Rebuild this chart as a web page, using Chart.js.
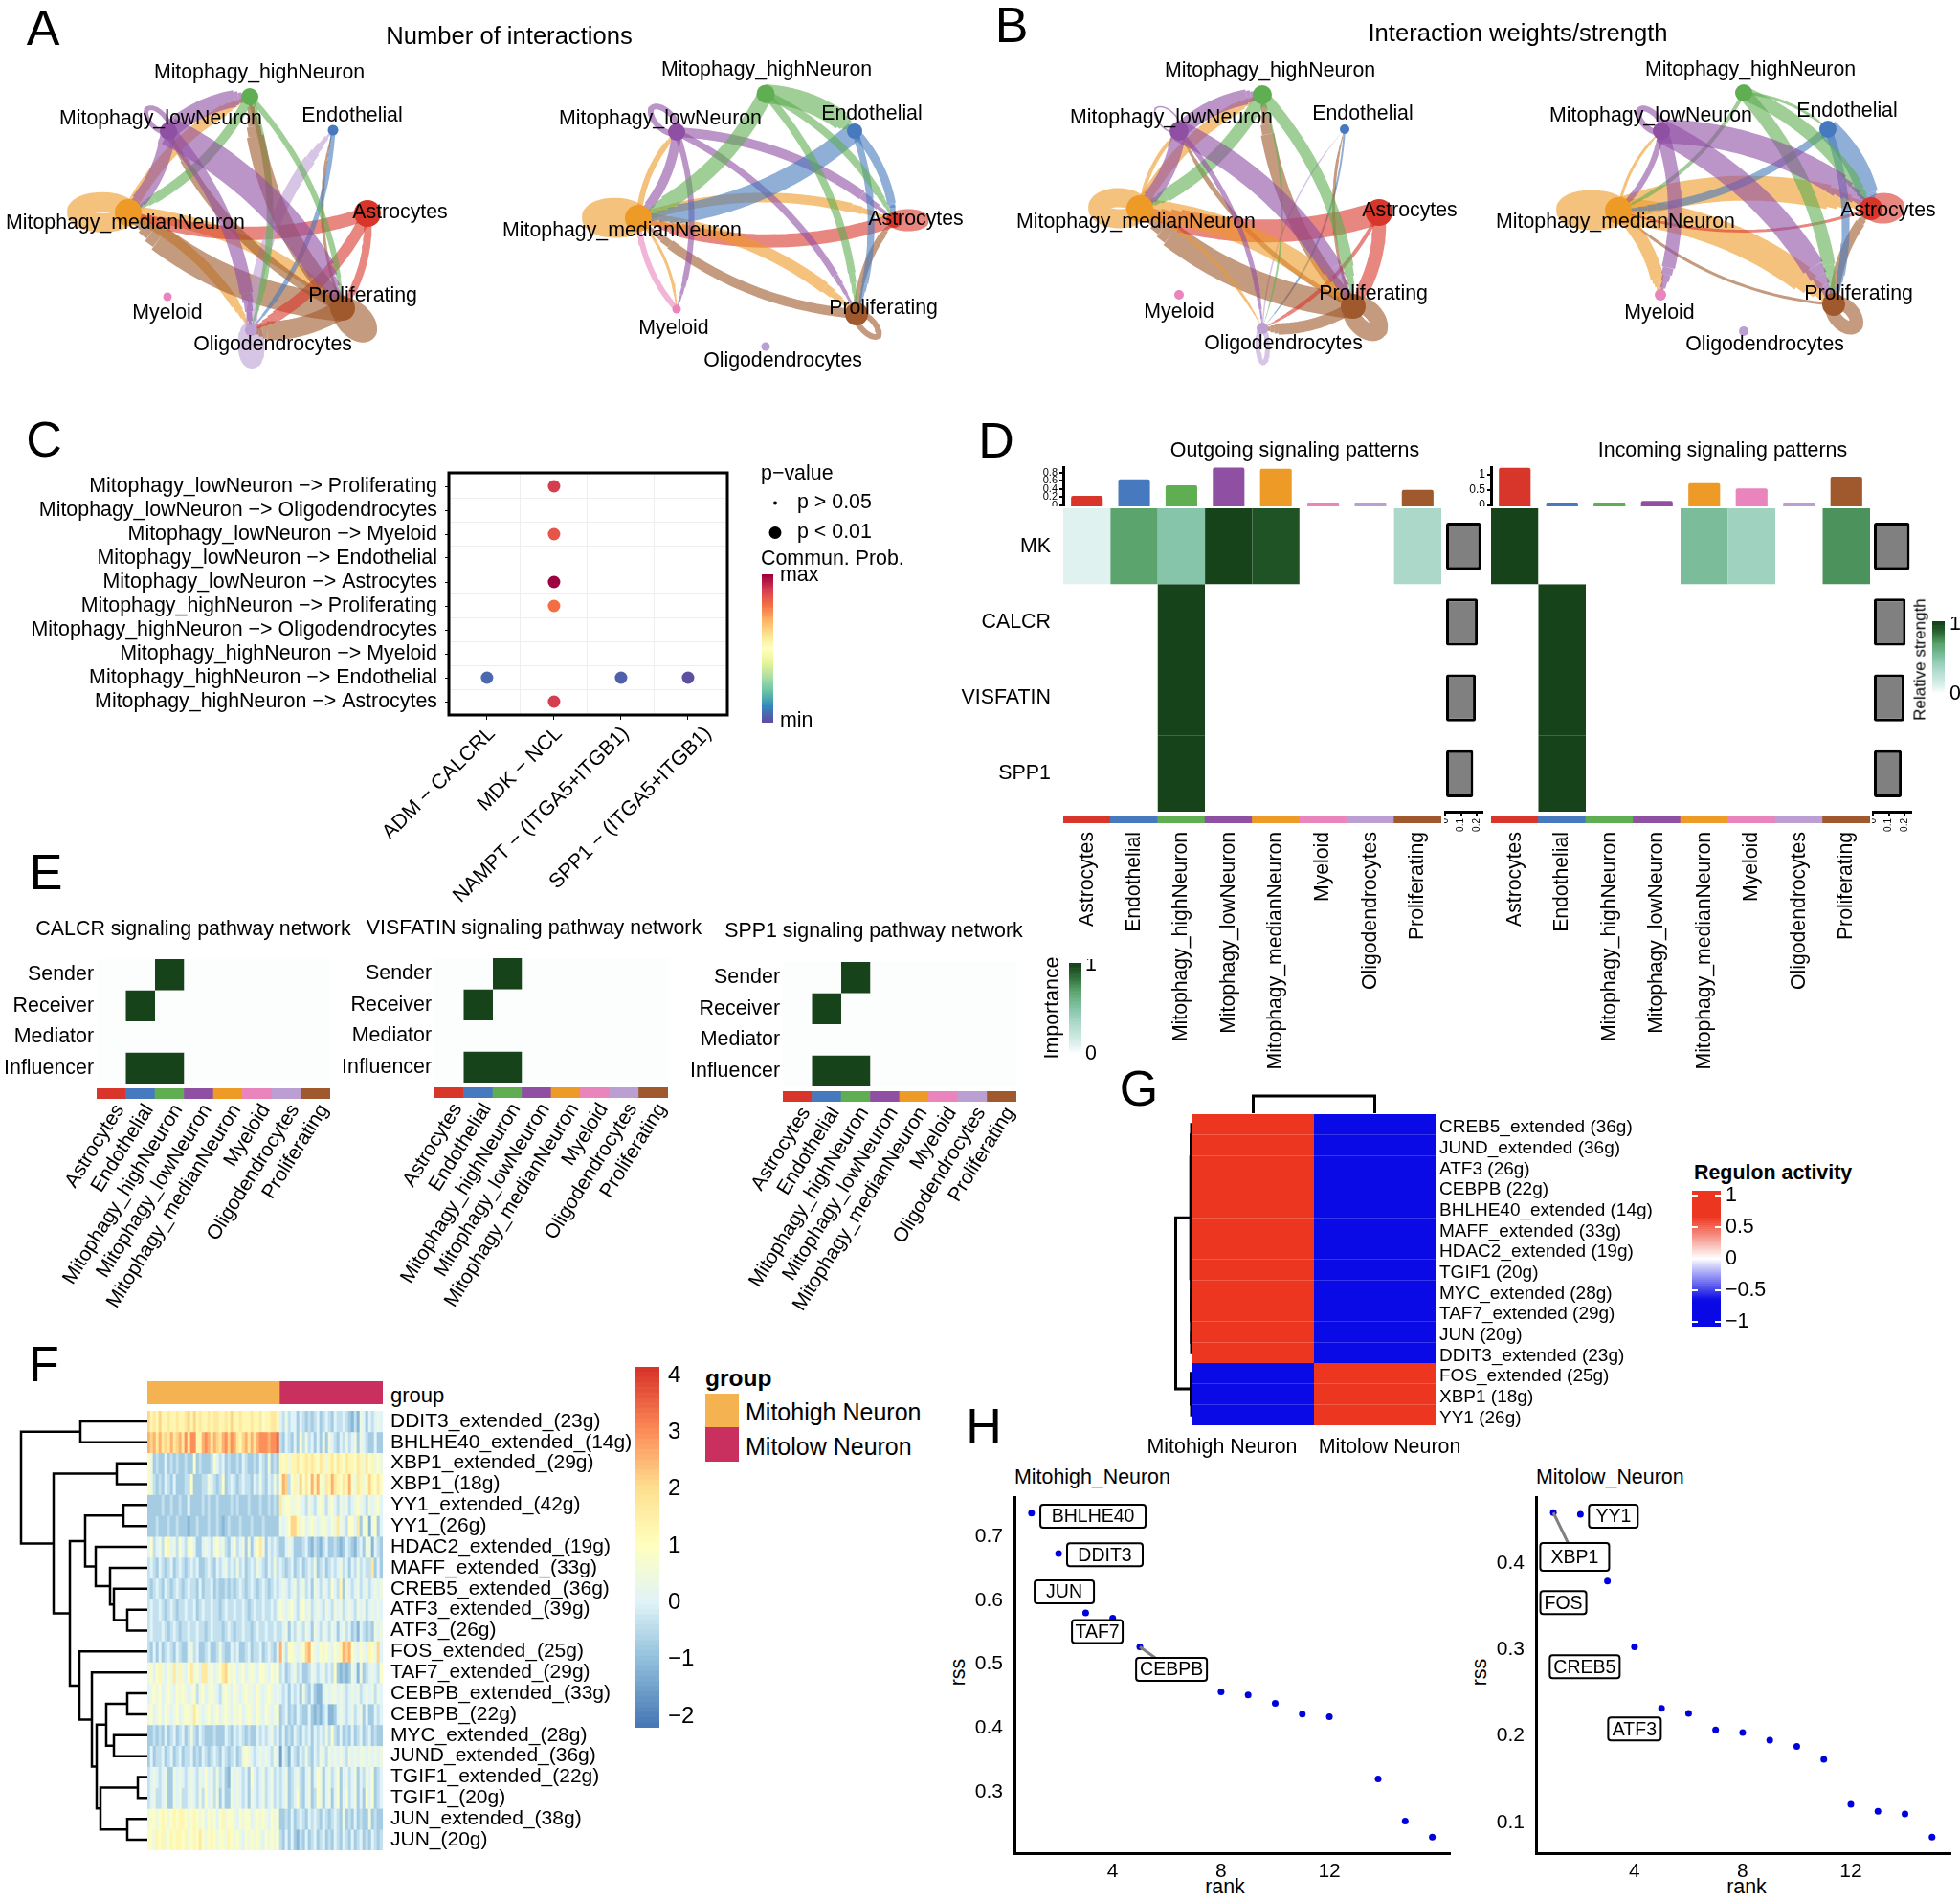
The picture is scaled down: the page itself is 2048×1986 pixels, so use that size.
<!DOCTYPE html>
<html>
<head>
<meta charset="utf-8">
<title>Mitophagy neuron signalling figure</title>
<script src="https://cdn.jsdelivr.net/npm/chart.js@4/dist/chart.umd.min.js"></script>
<style>
  html, body { margin: 0; padding: 0; background: #fff; }
  #page { position: relative; width: 2048px; height: 1986px; overflow: hidden; background: #fff; }
  #page canvas { position: absolute; }
  .note { position: absolute; white-space: nowrap; line-height: 1; color: #000; font-family: "Liberation Sans", Arial, sans-serif; }
  .swatch { position: absolute; }
</style>
</head>
<body>
<div id="page"></div>
<script>
// ---------- data: cell types ----------
const AST = 0, END = 1, HIG = 2, LOW = 3, MED = 4, MYE = 5, OLI = 6, PRO = 7;
const cellTypes = ['Astrocytes', 'Endothelial', 'Mitophagy_highNeuron', 'Mitophagy_lowNeuron', 'Mitophagy_medianNeuron', 'Myeloid', 'Oligodendrocytes', 'Proliferating'];
const cellColors = ['#d9362b', '#4679bd', '#5fae52', '#8f4fa3', '#ee9a26', '#ea84bd', '#bb9fd2', '#9f592c'];

// ---------- data: panels A and B, [from, to, weight] ----------
const net1Edges = [[LOW,HIG,18],[LOW,MED,16],[LOW,PRO,30],[LOW,OLI,14],[MED,HIG,12],[HIG,MED,10],[HIG,PRO,6],[PRO,HIG,18],[HIG,OLI,7],[PRO,LOW,10],[OLI,END,12],[END,OLI,5],[PRO,END,3],[AST,MED,14],[AST,PRO,8],[AST,OLI,12],[MED,PRO,14],[PRO,MED,28],[MED,OLI,10],[PRO,OLI,20]];
const net2Edges = [[HIG,END,20],[HIG,MED,16],[HIG,AST,8],[HIG,PRO,8],[END,MED,20],[END,AST,9],[END,PRO,7],[LOW,MED,10],[LOW,AST,10],[LOW,PRO,7],[LOW,MYE,6],[MED,LOW,6],[MED,AST,10],[MED,PRO,12],[MED,MYE,3],[AST,MED,14],[PRO,MED,10],[PRO,AST,7],[MYE,MED,6]];
const net3Edges = [[LOW,HIG,16],[LOW,MED,15],[LOW,PRO,22],[LOW,OLI,5],[HIG,MED,14],[HIG,PRO,12],[HIG,OLI,2],[MED,HIG,12],[MED,LOW,4],[MED,PRO,22],[MED,OLI,3],[AST,MED,24],[AST,PRO,14],[AST,OLI,4],[PRO,MED,26],[PRO,HIG,14],[PRO,LOW,5],[PRO,OLI,12],[PRO,END,3],[END,OLI,2],[OLI,END,1.5]];
const net4Edges = [[LOW,AST,25],[LOW,PRO,24],[LOW,MED,6],[LOW,MYE,14],[HIG,END,3],[HIG,AST,14],[HIG,PRO,14],[HIG,MED,4],[END,AST,22],[END,MED,8],[END,PRO,8],[AST,MED,3],[MED,AST,26],[MED,PRO,28],[MED,MYE,14],[MED,LOW,3],[PRO,AST,10],[PRO,MED,3]];
// self loops: [cell, weight, radial half length, tangential half length]
const net1Loops = [[MED,20,27,11],[PRO,18,18,9],[OLI,16,16,6],[LOW,5,16,8]];
const net2Loops = [[MED,22,24,10],[AST,13,15,5],[LOW,6,18,9],[PRO,6,16,7]];
const net3Loops = [[MED,20,22,11],[PRO,18,18,10],[OLI,5,18,5],[LOW,1.5,17,9]];
const net4Loops = [[MED,22,27,10],[AST,18,13,7],[LOW,6,16,8],[PRO,14,16,9]];
const net1Sizes = [14,5.5,9,9,14,4.5,6,13];
const net2Sizes = [8,8,9.5,9,14,4.5,4.5,12];
const net3Sizes = [14,5,10,10,14,5,6,13];
const net4Sizes = [12,9,9,9,14,6,5,12];
// layout of the cells in each network
const net1X = [384,348,261,176,134,175,262,358];
const net1Y = [223,136,101,137,222,310,345,322];
const net2X = [934,893,800,707,667,707,800,895];
const net2Y = [230,137,98,138,228,323,362,328];
const net3X = [1441,1405,1319,1232,1191,1232,1319,1414];
const net3Y = [222,135,99,137,218,308,343,320];
const net4X = [1955,1910,1822,1736,1691,1735,1822,1916];
const net4Y = [218,135,97,137,220,308,346,318];

// ---------- data: panel C ----------
const lrPairs = ['ADM − CALCRL', 'MDK − NCL', 'NAMPT − (ITGA5+ITGB1)', 'SPP1 − (ITGA5+ITGB1)'];
const commRows = ['Mitophagy_lowNeuron −> Proliferating','Mitophagy_lowNeuron −> Oligodendrocytes','Mitophagy_lowNeuron −> Myeloid','Mitophagy_lowNeuron −> Endothelial','Mitophagy_lowNeuron −> Astrocytes','Mitophagy_highNeuron −> Proliferating','Mitophagy_highNeuron −> Oligodendrocytes','Mitophagy_highNeuron −> Myeloid','Mitophagy_highNeuron −> Endothelial','Mitophagy_highNeuron −> Astrocytes'];
const dotCol  = [2, 2, 2, 2, 1, 3, 4, 2];
const dotRow  = [0, 2, 4, 5, 8, 8, 8, 9];
const dotProb = [0.9, 0.85, 1, 0.8, 0.045, 0.03, 0, 0.9];
const pLegendText = ['p > 0.05', 'p < 0.01'];
const pLegendSize = [2, 6.5];

// ---------- data: panel D ----------
const pathways = ['MK', 'CALCR', 'VISFATIN', 'SPP1'];
const outMK       = [0.1, 0.7, 0.5, 1, 0.95, 0, 0, 0.35];
const outCALCR    = [0, 0, 1, 0, 0, 0, 0, 0];
const outVISFATIN = [0, 0, 1, 0, 0, 0, 0, 0];
const outSPP1     = [0, 0, 1, 0, 0, 0, 0, 0];
const inMK        = [1, 0, 0, 0, 0.55, 0.4, 0, 0.75];
const inCALCR     = [0, 1, 0, 0, 0, 0, 0, 0];
const inVISFATIN  = [0, 1, 0, 0, 0, 0, 0, 0];
const inSPP1      = [0, 1, 0, 0, 0, 0, 0, 0];
const outTotals = [0.23, 0.64, 0.49, 0.93, 0.90, 0.06, 0.06, 0.38];
const inTotals  = [1.22, 0.07, 0.07, 0.14, 0.72, 0.55, 0.07, 0.93];
const outPathTotals = [0.224, 0.204, 0.192, 0.176];
const inPathTotals  = [0.23, 0.205, 0.195, 0.18];

// ---------- data: panel E ----------
const roles = ['Sender', 'Receiver', 'Mediator', 'Influencer'];
const senderRow     = [0, 0, 1, 0, 0, 0, 0, 0];
const receiverRow   = [0, 1, 0, 0, 0, 0, 0, 0];
const mediatorRow   = [0, 0, 0, 0, 0, 0, 0, 0];
const influencerRow = [0, 1, 1, 0, 0, 0, 0, 0];

// ---------- data: panel F ----------
const groupSizes = [46, 36];
const regulonNames = ['DDIT3_extended_(23g)','BHLHE40_extended_(14g)','XBP1_extended_(29g)','XBP1_(18g)','YY1_extended_(42g)','YY1_(26g)','HDAC2_extended_(19g)','MAFF_extended_(33g)','CREB5_extended_(36g)','ATF3_extended_(39g)','ATF3_(26g)','FOS_extended_(25g)','TAF7_extended_(29g)','CEBPB_extended_(33g)','CEBPB_(22g)','MYC_extended_(28g)','JUND_extended_(36g)','TGIF1_extended_(22g)','TGIF1_(20g)','JUN_extended_(38g)','JUN_(20g)'];
const rDDIT3e = [2.5,1.5,2,1.5,2.5,1.5,1.5,2,1.5,1.5,2,1.5,1.5,2,2.5,1.5,2.5,1.5,2,1.5,1.5,2,1.5,2,2,1.5,1.5,2,1.5,2.5,1.5,1.5,2,1.5,1.5,1.5,2,1.5,1.5,2,1,1.5,1.5,2,2,1.5, 0,-.5,.5,-.5,0,0,-1,0,-.5,-1,-.5,-1,-.5,0,-1,-.5,0,-.5,-1,0,-.5,-.5,0,-.5,-1,-1.5,-.5,-1.5,.5,0,-1,0,-.5,0,.5,0];
const rBHLHE40e = [3,2.5,3,2,3,2,2.5,2,3,2,2.5,3,2,3.5,2,3.5,3.5,1.5,1.5,3,3.5,3,2,3,2.5,2,3,3.5,2.5,3.5,3,2,1.5,2.5,3,2,3,2,3,3.5,3.5,3.5,3,3.5,3.5,4, -.5,-1,0,-.5,-1,0,-1,1,-.5,.5,-.5,0,-1,0,-1,.5,-1,.5,0,-.5,-1,0,-.5,.5,-.5,0,.5,-1,.5,0,-.5,-1,-1,0,-1,-1];
const rXBP1e = [1,.5,-1,-.5,-1,-1,0,-1,-.5,-1,-.5,-1,-1,-.5,-1,-1,1,-1,-.5,-1,-1,-1,-.5,1,0,-.5,0,-1,-.5,-1,-1,-.5,-1,0,-.5,-1,-1,-.5,-1,0,-.5,-1,.5,-1,-.5,-1, 1.5,1,1.5,.5,1.5,1.5,2,1,1.5,2,1.5,2,1.5,1,2,1.5,.5,1.5,2,1,2,1.5,1,2,1.5,1.5,1,2,1.5,.5,2,1,1.5,.5,1,.5];
const rXBP1 = [1,.5,-.5,-1,-.5,-1,0,-.5,-1,0,-1,-1,-1,-.5,-.5,1,-1,-1,-1,-.5,-.5,.5,0,-.5,-1,-.5,1,-1,-.5,0,-.5,-1,-.5,0,-.5,-.5,-1,0,-.5,.5,-.5,-1,0,-.5,.5,-.5, 1,3,2.5,-.5,1,1.5,.5,2.5,1,2,1,3,1.5,3,1,.5,2,1.5,3,2,1.5,1,2,1.5,3,1,.5,2,1.5,.5,1,2.5,1.5,1,2,1];
const rYY1e = [-1,-1,-1,-1,-1,-.5,-1,-1,-.5,-1,-1,-.5,-1,-1,0,-1,-1,-1,-1,-.5,-1,-.5,-1,-1,-.5,-1,-1,-1,-1,-.5,-1,-.5,-1,-1,-1,-.5,-1,-1,-1,-.5,-1,-1,-.5,-1,-.5,-1, 2,.5,1,1,.5,.5,1,.5,0,-.5,.5,0,-.5,.5,1,0,-.5,.5,1,0,-.5,.5,0,.5,-.5,0,.5,1,.5,0,-.5,.5,0,.5,1,0];
const rYY1 = [-1,-1,-1,-.5,-1,-1,-1,-.5,-1,-1,-.5,-1,-1,-1,-1.5,-1,-1,-.5,-1,-1,-1,-.5,-1,-1,-.5,-1,-1.5,-1,-.5,-1,-1,-1,-.5,-1,-1,-1,-.5,-1,-1,-1,-.5,-1,-1,-1,-1,-1, .5,0,.5,1,2.5,2.5,1.5,.5,1,0,.5,1,.5,0,.5,1,.5,0,1,.5,2,.5,0,-.5,1,1,0,2,-1,.5,1,-1.5,.5,1,-1,0];
const rHDAC2e = [0,1,-.5,0,.5,-.5,1,1.5,0,.5,-.5,1,0,-.5,.5,1,0,-1,-1,0,.5,0,-.5,.5,1,0,.5,-.5,-1,0,1,-.5,0,.5,-1,.5,-1,0,1,2,.5,-1,0,-.5,0,-.5, -1,-1,0,.5,0,-1,-1,-1,-.5,0,-1,-1.5,-.5,-1,-1.5,-.5,0,-1,-1,-.5,-1,-1.5,-1,0,-.5,-1,-1.5,-.5,0,-1,.5,.5,-1.5,0,-.5,-1];
const rMAFFe = [-.5,0,-.5,-1,0,-.5,-1,-.5,0,-1,-.5,0,-.5,-1,-.5,0,-.5,0,-1,-1,-.5,0,-.5,-1,0,-.5,0,.5,-.5,0,-.5,.5,-.5,0,-1,-.5,0,-.5,.5,0,-.5,-1,0,-.5,.5,-.5, 0,-.5,-1,-.5,0,-1,-.5,0,-1,-.5,0,-.5,.5,-1,-.5,0,-1,-.5,0,-.5,0,.5,-.5,0,-1,0,-.5,.5,-.5,0,-.5,-.5,2,-1,0,-1];
const rCREB5e = [-.5,-1,-.5,0,-.5,-1,0,-.5,-1,-.5,0,-.5,-1,-.5,0,-.5,-.5,-1,0,-1,-.5,-.5,0,-1,-.5,-1,-1,-.5,-1,-.5,-1,-.5,0,-.5,-1,-.5,0,-.5,-1,-.5,0,-.5,-1,-.5,0,-.5, 0,.5,0,-.5,0,.5,-.5,0,.5,-.5,0,-1,.5,0,-.5,.5,0,-.5,1,0,-.5,1.5,-1,.5,0,-.5,0,.5,-.5,0,.5,-.5,0,.5,0,.5];
const rATF3e = [-.5,0,-.5,-.5,0,-.5,-1,-.5,0,-.5,-1,-.5,-.5,0,-.5,-.5,0,-1,-.5,0,-.5,-.5,0,-.5,-.5,-1,-.5,0,-.5,-.5,0,-.5,-.5,0,-.5,-1,-.5,0,-.5,-.5,0,-.5,-.5,0,-.5,0, 1,.5,0,.5,1,0,-.5,.5,1,0,.5,-.5,0,.5,0,-.5,.5,0,-.5,.5,0,.5,-.5,0,.5,0,-.5,.5,0,.5,-.5,0,.5,0,.5,0];
const rATF3 = [-.5,0,-.5,-.5,-.5,0,-.5,-1,-.5,0,-.5,-1,-.5,-.5,0,-.5,-.5,0,-.5,-.5,-1,-.5,0,-.5,-.5,-.5,-1,-.5,0,-.5,-1,-.5,-.5,0,-.5,-.5,-1,-.5,0,-.5,-.5,0,-.5,-.5,0,-.5, -.5,0,.5,-1,0,-.5,.5,0,-.5,.5,0,-1,.5,0,-.5,.5,0,-.5,.5,0,-1,0,.5,-.5,0,-1,-.5,-1.5,0,-.5,-1,-.5,-1,.5,0,.5];
const rFOSe = [-.5,-1,0,-1,0,-1,-.5,0,-.5,-1,0,-.5,-1,-1,0,.5,-.5,0,-1,-1,-.5,0,-1,-1,-.5,.5,-.5,-1,-1,0,-.5,0,-1,-1,-.5,0,-1,-.5,-.5,0,-1,-.5,0,-.5,-1,0, 3,.5,-.5,1,1,.5,0,.5,1,2.5,3,1,.5,0,1,.5,1,.5,0,1,.5,1.5,3,2.5,3,1,.5,0,1,.5,0,1.5,1,.5,2.5,0];
const rTAF7e = [.5,1,0,1,1.5,.5,0,1,.5,2,.5,1.5,.5,0,1,2,.5,1,0,2,2,.5,1,0,.5,1,2,2.5,1,.5,1,0,.5,1,0,.5,1,.5,0,1,1,.5,0,1,.5,1, -.5,0,-1,-.5,0,.5,-.5,0,-1,-1,-.5,.5,0,-.5,0,.5,-.5,0,-.5,1,-1,-1.5,-1,-1.5,-1,.5,0,-1.5,.5,-1,-.5,0,.5,0,-.5,1];
const rCEBPBe = [0,.5,1,.5,1,0,.5,1,.5,0,1,.5,1,.5,0,.5,1,-.5,.5,1,0,.5,1,.5,0,-.5,.5,1,.5,0,1,.5,0,.5,1,.5,.5,0,1,.5,0,.5,1,.5,0,.5, 0,-.5,0,-1,0,-.5,0,-1,.5,-.5,-1,0,-1,-1.5,-1.5,0,.5,0,.5,.5,0,.5,0,-.5,0,.5,0,.5,-.5,0,.5,0,.5,-.5,.5,0];
const rCEBPB = [.5,1,0,.5,1,0,1,.5,0,.5,1,0,.5,1,1,.5,2,1,.5,0,.5,1,0,.5,1,0,.5,1,.5,0,1,.5,1,0,.5,1,.5,0,1,.5,0,1,.5,0,.5,1, -1,-.5,0,-1,-.5,-1,0,-.5,-1,-1,0,-1,-1.5,-1,-1.5,-.5,0,-1.5,-1.5,-1,0,.5,0,-.5,0,.5,-.5,0,.5,-1,0,-1,-1,0,-.5,0];
const rMYCe = [-1,-1,-.5,-1,-.5,-1,0,-1,-.5,0,-1,-.5,0,-1,-.5,.5,-.5,-1,0,-.5,-1,-1,-1,-.5,-1,-1,-1,0,-.5,-1,0,-.5,0,-.5,-1,-.5,-1,-1,0,-.5,0,-.5,0,.5,-.5,0, -1,0,-1,-.5,-1,0,-.5,-1,0,-.5,0,-1,0,-.5,0,-.5,.5,-.5,1,-.5,-1,0,-1,-.5,-1,0,-1,-.5,0,-1,-.5,0,-1,-.5,-1,-1];
const rJUNDe = [-1,0,-1,-.5,-.5,0,-1,-.5,0,-1,-.5,0,-1,-.5,-.5,0,-1,-.5,-1,0,-.5,-1,-.5,0,-.5,-1,0,-.5,-1,-.5,0,-1,-.5,.5,1,.5,0,-.5,0,.5,0,.5,0,-.5,.5,0, -2,0,-.5,-1.5,0,-.5,-1,0,-.5,.5,-.5,-1,0,-.5,.5,0,-.5,.5,0,.5,0,.5,0,-.5,.5,0,.5,0,.5,.5,0,.5,0,.5,0,.5];
const rTGIF1e = [-.5,0,.5,0,-.5,0,.5,-1,-1,.5,0,.5,0,-.5,0,.5,0,-.5,.5,0,1,0,.5,-.5,.5,-.5,0,-1,-1.5,.5,0,.5,0,-.5,0,-1,1,0,-.5,0,.5,-.5,0,.5,-.5,0, -.5,0,.5,-1,-.5,0,.5,-.5,-1,0,.5,-1,0,1,.5,-1,0,.5,-.5,0,1,-1,0,.5,-.5,0,.5,-1,0,-.5,.5,0,1,-1,-.5,0];
const rTGIF1 = [-.5,0,.5,-.5,-.5,0,.5,-1,-1,.5,0,.5,-.5,-.5,0,.5,0,-.5,.5,-.5,1,0,.5,-.5,.5,-1,0,-1,-1,.5,0,.5,0,-.5,0,-1,.5,0,-.5,0,.5,-.5,0,.5,-.5,0, -.5,0,.5,-1,-.5,0,1,-.5,-1,0,.5,-1,-.5,1,.5,-1,0,.5,-1,0,1,-1,0,1,-.5,0,.5,-1,0,-1,1,0,1,-1,-.5,0];
const rJUNe = [.5,1,1,.5,1,1.5,1,.5,1,1.5,1,1.5,1.5,1,.5,1,1.5,1,.5,1,0,1,.5,1,0,1,1.5,.5,1,1,.5,0,1,.5,1,1,0,.5,1,.5,1,.5,0,1,.5,1, -1,-1,-.5,-1,0,-1,-.5,0,-.5,-1,0,-.5,0,-.5,-1,0,-.5,-1,-.5,0,-.5,-1,.5,-1,-.5,-1,0,-1,-.5,-1,-1,.5,-1,-.5,-1,-1];
const rJUN = [1,1,.5,1.5,1,1.5,.5,1,1.5,1,1.5,1.5,1,1.5,.5,1,1.5,1,2,1,.5,1,1.5,1,.5,1,1,.5,1.5,1,.5,1,.5,0,1,.5,1,.5,1,.5,0,1,.5,1,.5,1, -.5,-1,0,-1,0,-1,-1.5,-.5,-1,0,-1,-.5,0,-1,-.5,0,-1,-.5,-1,0,-.5,-1,0,-.5,-1,0,-1,-.5,0,-1,-.5,-1,0,-.5,-1,-.5];
const regulonRows = [rDDIT3e, rBHLHE40e, rXBP1e, rXBP1, rYY1e, rYY1, rHDAC2e, rMAFFe, rCREB5e, rATF3e, rATF3, rFOSe, rTAF7e, rCEBPBe, rCEBPB, rMYCe, rJUNDe, rTGIF1e, rTGIF1, rJUNe, rJUN];
// dendrogram, hclust style: negative = leaf, positive = earlier merge
const fMergeA = [-1,-3,-5,-10,-9,-8,-7,3,-14,-16,9,-18,-20,12,11,-13,-12,8,2,1];
const fMergeB = [-2,-4,-6,-11,4,5,6,7,-15,-17,10,-19,-21,13,14,15,16,17,18,19];
const fMergeH = [70,32,25,21,35,39,54,65,21,35,43,10,21,49,53,58,71,81,98,132];

// ---------- data: panel G ----------
const activityRows = ['CREB5_extended (36g)','JUND_extended (36g)','ATF3 (26g)','CEBPB (22g)','BHLHE40_extended (14g)','MAFF_extended (33g)','HDAC2_extended (19g)','TGIF1 (20g)','MYC_extended (28g)','TAF7_extended (29g)','JUN (20g)','DDIT3_extended (23g)','FOS_extended (25g)','XBP1 (18g)','YY1 (26g)'];
const mitohighActivity = [1,1,1,1,1,1,1,1,1,1,1,1,-1,-1,-1];
const mitolowActivity  = [-1,-1,-1,-1,-1,-1,-1,-1,-1,-1,-1,-1,1,1,1];
const gRowA = [-1,-3,1,-5,-7,-9,-11,4,6,8,3,-14,-13,11];
const gRowB = [-2,-4,2,-6,-8,-10,-12,5,7,9,10,-15,12,13];
const gRowH = [1,1,1.5,1,1,1,1,1.2,1.2,1.5,2,1,1.5,17.5];

// ---------- data: panel H ----------
const hiRank = [1,2,3,4,5,8,9,10,11,12,13.8,14.8,15.8];
const hiRss  = [0.736,0.673,0.580,0.572,0.527,0.457,0.452,0.439,0.422,0.418,0.321,0.255,0.230];
const hiLabels = ['BHLHE40','DDIT3','JUN','TAF7','CEBPB'];
const hiLabelRank = [3.27,3.71,2.21,3.43,6.17];
const hiLabelRss  = [0.731,0.671,0.613,0.551,0.492];
const hiLabelFrom = [-1,-1,-1,-1,4];
const loRank = [1,2,3,4,5,6,7,8,9,10,11,12,13,14,15];
const loRss  = [0.458,0.456,0.379,0.303,0.232,0.226,0.207,0.204,0.195,0.188,0.173,0.121,0.113,0.110,0.083];
const loLabels = ['YY1','XBP1','FOS','CREB5','ATF3'];
const loLabelRank = [3.22,1.79,1.37,2.16,4];
const loLabelRss  = [0.454,0.407,0.354,0.28,0.208];
const loLabelFrom = [-1,0,-1,-1,-1];

// ---------- setup ----------
const FONT = '"Liberation Sans", Arial, sans-serif';
const TEXT = 21.4;
Chart.defaults.font.family = FONT;
Chart.defaults.font.size = TEXT;
Chart.defaults.color = '#000';
Chart.defaults.responsive = false;
Chart.defaults.animation = false;
Chart.defaults.devicePixelRatio = 1;
Chart.defaults.plugins.legend.display = false;
Chart.defaults.plugins.tooltip.enabled = false;

const page = document.getElementById('page');
const ZERO = { l: 0, r: 0, t: 0, b: 0 };

function note(text, x, y, o) {
  o = o || {};
  const d = document.createElement('div');
  d.className = 'note';
  d.textContent = text;
  d.style.left = x + 'px';
  d.style.top = y + 'px';
  d.style.fontSize = (o.size || TEXT) + 'px';
  if (o.bold) d.style.fontWeight = 'bold';
  const shift = o.align === 'left' ? '0' : '-50%';
  d.style.transform = 'translate(' + shift + ',-50%)' + (o.rotate ? ' rotate(' + o.rotate + 'deg)' : '');
  page.appendChild(d);
}

// put a chart so that its plot area is exactly x,y,w,h with margins m round it
function place(x, y, w, h, m, config) {
  const c = document.createElement('canvas');
  c.width = w + m.l + m.r;
  c.height = h + m.t + m.b;
  c.style.left = (x - m.l) + 'px';
  c.style.top = (y - m.t) + 'px';
  page.appendChild(c);
  const scales = config.options.scales;
  const side = {};
  Object.values(scales).forEach(s => {
    if (s.display === false) return;
    const axisIsX = s === scales.x;
    side[s.position || (axisIsX ? 'bottom' : 'left')] = true;
    s.afterFit = a => {
      if (a.isHorizontal()) a.height = a.position === 'top' ? m.t : m.b;
      else a.width = a.position === 'right' ? m.r : m.l;
      a.paddingLeft = a.paddingRight = a.paddingTop = a.paddingBottom = 0;
    };
  });
  config.options.layout = { autoPadding: false, padding: {
    left: side.left ? 0 : m.l, right: side.right ? 0 : m.r,
    top: side.top ? 0 : m.t, bottom: side.bottom ? 0 : m.b } };
  return new Chart(c, config);
}

function ramp(stops) {
  const hex = s => [1, 3, 5].map(i => parseInt(s.substr(i, 2), 16));
  return v => {
    if (v <= stops[0][0]) return stops[0][1];
    for (let i = 1; i < stops.length; i++) {
      if (v <= stops[i][0]) {
        const t = (v - stops[i - 1][0]) / (stops[i][0] - stops[i - 1][0]);
        const a = hex(stops[i - 1][1]), b = hex(stops[i][1]);
        return 'rgb(' + a.map((p, k) => Math.round(p + (b[k] - p) * t)).join(',') + ')';
      }
    }
    return stops[stops.length - 1][1];
  };
}
const spectral = ramp([[0,'#5e4fa2'],[.1,'#3288bd'],[.2,'#66c2a5'],[.3,'#abdda4'],[.4,'#e6f598'],[.5,'#ffffbf'],[.6,'#fee08b'],[.7,'#fdae61'],[.8,'#f46d43'],[.9,'#d53e4f'],[1,'#9e0142']]);
const greens = ramp([[0,'#ffffff'],[.1,'#dff2ef'],[.35,'#abd8c9'],[.5,'#86c5aa'],[.7,'#5ba46d'],[.85,'#2f6f3c'],[1,'#17431a']]);
const paleGreens = v => v === 0 ? '#fbfefd' : greens(v);
const rdYlBu = ramp([[-2.2,'#4575b4'],[-1,'#91bfdb'],[0,'#e0f3f8'],[1,'#ffffbf'],[2,'#fee090'],[3,'#fc8d59'],[4.15,'#d73027']]);
// the stripes in the heatmap print paler than the key
const regulonColor = v => rdYlBu(v < 0 ? v * 0.75 : v * 0.85);
const blueRed = ramp([[-.65,'#0a0ae6'],[0,'#ffffff'],[.65,'#ed3620']]);

function fixedTicks(values) {
  return s => { s.ticks = values.map(v => ({ value: v })); };
}

// ---------- heatmaps as stacked bars ----------
function heatmap(x, y, w, h, m, rows, colorOf, rowLabels, axisPos, pad, inflate, size, shift) {
  const n = rows.length;
  return place(x, y, w, h, m, {
    type: 'bar',
    data: {
      labels: rows[0].map((_, i) => i),
      datasets: rows.map(r => ({
        data: r.map(() => 1), backgroundColor: r.map(colorOf),
        barPercentage: 1, categoryPercentage: 1, borderWidth: 0, inflateAmount: inflate
      }))
    },
    options: { scales: {
      x: { display: false, stacked: true },
      y: rowLabels ? {
        position: axisPos, stacked: true, reverse: true, min: 0, max: n,
        grid: { display: false, drawTicks: false }, border: { display: false },
        afterBuildTicks: fixedTicks(rows.map((_, i) => i + 0.5 + (shift || 0))),
        ticks: { autoSkip: false, padding: pad, font: { size: size || TEXT }, callback: (v, i) => rowLabels[i] }
      } : { display: false, stacked: true, reverse: true, min: 0, max: n }
    } }
  });
}

// coloured cell type strip, optionally with the names below
function cellStrip(x, y, w, h, m, rotation, size, pad, offset) {
  return place(x, y, w, h, m, {
    type: 'bar',
    data: { labels: cellTypes, datasets: [{ data: cellTypes.map(() => 1), backgroundColor: cellColors, barPercentage: 1, categoryPercentage: 1 }] },
    options: { scales: {
      x: { grid: { display: false, drawTicks: false }, border: { display: false },
        ticks: { autoSkip: false, minRotation: rotation, maxRotation: rotation, padding: pad, labelOffset: offset || 0, font: { size: size } } },
      y: { display: false, min: 0, max: 1 }
    } }
  });
}

function colorBar(x, y, w, h, m, lo, hi, colorOf, tickValues, tickText, o) {
  o = o || {};
  const steps = o.steps || 70;
  const ds = [];
  for (let i = 0; i < steps; i++) {
    const a = lo + (hi - lo) * i / steps, b = lo + (hi - lo) * (i + 1) / steps;
    ds.push({ data: [[a, b]], backgroundColor: colorOf((a + b) / 2), barPercentage: 1, categoryPercentage: 1, grouped: false });
  }
  return place(x, y, w, h, m, {
    type: 'bar',
    data: { labels: ['level'], datasets: ds },
    options: { scales: {
      x: { display: false },
      y: { position: 'right', min: lo, max: hi,
        grid: o.dashes ? { color: '#fff', lineWidth: 2, z: 1, drawTicks: false } : { display: false, drawTicks: false },
        border: o.dashes ? { display: false, dash: o.dashes } : { display: false },
        afterBuildTicks: fixedTicks(tickValues),
        ticks: { autoSkip: false, padding: o.pad || 6, font: { size: o.size || TEXT }, callback: (v, i) => tickText[i] }
      }
    } }
  });
}

function dendrogram(x, y, w, h, leaves, mergeA, mergeB, mergeH, maxH, orient, lineWidth) {
  const nodes = [];
  const pos = id => id < 0 ? { p: -id - 0.5, h: 0 } : nodes[id - 1];
  const toPoint = (hgt, p) => orient === 'left' ? { x: hgt, y: p } : { x: p, y: hgt };
  const ds = mergeA.map((a, i) => {
    const A = pos(a), B = pos(mergeB[i]), H = mergeH[i];
    nodes.push({ p: (A.p + B.p) / 2, h: H });
    return { data: [toPoint(A.h, A.p), toPoint(H, A.p), toPoint(H, B.p), toPoint(B.h, B.p)],
      showLine: true, borderColor: '#000', borderWidth: lineWidth, pointRadius: 0, clip: false };
  });
  const heightScale = { display: false, type: 'linear', min: 0, max: maxH };
  const leafScale = { display: false, type: 'linear', min: 0, max: leaves };
  return place(x, y, w, h, ZERO, {
    type: 'scatter',
    data: { datasets: ds },
    options: { scales: orient === 'left'
      ? { x: Object.assign({ reverse: true }, heightScale), y: Object.assign({ reverse: true }, leafScale) }
      : { x: leafScale, y: heightScale } }
  });
}

// ---------- panels A and B ----------
const EDGE_STEPS = 24;
const TAPER_FROM = 20;
function network(cx, cy, nodeX, nodeY, edges, loops, sizes, labels) {
  const W = 300;
  const edgePath = (a, b) => {
    const ax = nodeX[a], ay = nodeY[a], bx = nodeX[b], by = nodeY[b];
    const qx = (ax + bx) / 2 + (by - ay) * 0.17, qy = (ay + by) / 2 - (bx - ax) * 0.17;
    const pts = [];
    for (let i = 0; i <= EDGE_STEPS; i++) {
      const u = i / EDGE_STEPS, v = 1 - u;
      pts.push({ x: v * v * ax + 2 * u * v * qx + u * u * bx, y: v * v * ay + 2 * u * v * qy + u * u * by });
    }
    return pts;
  };
  const loopPath = (i, a, b) => {
    const dx = nodeX[i] - cx, dy = nodeY[i] - cy, len = Math.hypot(dx, dy);
    const ux = dx / len, uy = dy / len;
    const pts = [];
    for (let k = 0; k <= 36; k++) {
      const s = k / 36 * 2 * Math.PI;
      const radial = a * (1 - Math.cos(s)), side = b * Math.sin(s);
      pts.push({ x: nodeX[i] + ux * radial - uy * side, y: nodeY[i] + uy * radial + ux * side });
    }
    return pts;
  };
  const line = (pts, from, width) => ({
    data: pts, showLine: true, borderColor: cellColors[from] + '99', borderWidth: width,
    pointRadius: 0, clip: false, borderCapStyle: 'butt', borderJoinStyle: 'round'
  });
  // edges narrow to an arrow point as they reach the target cell
  const edgeLine = e => Object.assign(line(edgePath(e[0], e[1]), e[0], e[2]), {
    segment: { borderWidth: c => c.p0DataIndex < TAPER_FROM ? e[2] : e[2] * (EDGE_STEPS - c.p0DataIndex) / (EDGE_STEPS - TAPER_FROM + 1) }
  });
  const nameLabels = {
    id: 'nameLabels',
    afterDraw(chart) {
      const ctx = chart.ctx;
      ctx.save();
      ctx.fillStyle = '#000';
      ctx.font = '21.3px ' + FONT;
      ctx.textAlign = 'center';
      ctx.textBaseline = 'middle';
      labels.forEach((p, i) => ctx.fillText(cellTypes[i], p[0] - (cx - W), p[1] - (cy - W)));
      ctx.restore();
    }
  };
  place(cx - W, cy - W, 2 * W, 2 * W, ZERO, {
    type: 'scatter',
    data: { datasets: [
      { data: cellTypes.map((_, i) => ({ x: nodeX[i], y: nodeY[i] })), backgroundColor: cellColors, pointRadius: sizes, pointBorderWidth: 0, clip: false }
    ].concat(
      edges.map(edgeLine),
      loops.map(l => line(loopPath(l[0], l[2], l[3]), l[0], l[1]))
    ) },
    options: { scales: {
      x: { display: false, type: 'linear', min: cx - W, max: cx + W },
      y: { display: false, type: 'linear', min: cy - W, max: cy + W, reverse: true }
    } },
    plugins: [nameLabels]
  });
}

network(258, 223, net1X, net1Y, net1Edges, net1Loops, net1Sizes,
  [[418,222],[368,121],[271,76],[168,124],[131,233],[175,327],[285,360],[379,309]]);
network(800, 230, net2X, net2Y, net2Edges, net2Loops, net2Sizes,
  [[957,229],[911,119],[801,73],[690,124],[650,241],[704,343],[818,377],[923,322]]);
network(1316, 221, net3X, net3Y, net3Edges, net3Loops, net3Sizes,
  [[1473,220],[1424,119],[1327,74],[1224,123],[1187,232],[1232,326],[1341,359],[1435,307]]);
network(1823, 222, net4X, net4Y, net4Edges, net4Loops, net4Sizes,
  [[1973,220],[1930,116],[1829,73],[1725,121],[1688,232],[1734,327],[1844,360],[1942,307]]);

note('A', 45, 29, { size: 52 });
note('B', 1057, 26, { size: 52 });
note('Number of interactions', 532, 38, { size: 25.6 });
note('Interaction weights/strength', 1586, 35, { size: 25.6 });

// ---------- panel C ----------
const frame = {
  id: 'frame',
  afterDraw(chart) {
    const a = chart.chartArea, ctx = chart.ctx;
    ctx.save();
    ctx.strokeStyle = '#000';
    ctx.lineWidth = 3;
    ctx.strokeRect(a.left, a.top, a.right - a.left, a.bottom - a.top);
    ctx.restore();
  }
};
const halfTicks = (from, to) => {
  const t = [];
  for (let v = from; v <= to; v += 0.5) t.push(v);
  return t;
};
// the last pair name sits further right of its tick than the others
const pairNameAt = { 1: 0, 2: 1, 3: 2, 4.23: 3 };
place(469, 494, 291, 253, { l: 460, r: 40, t: 10, b: 240 }, {
  type: 'scatter',
  data: { datasets: [{
    data: dotCol.map((c, i) => ({ x: c, y: dotRow[i] })),
    backgroundColor: dotProb.map(spectral), pointRadius: 6.5, pointBorderWidth: 0
  }] },
  options: { scales: {
    x: { type: 'linear', min: 0.43, max: 4.586,
      afterBuildTicks: fixedTicks(halfTicks(1, 4).concat(4.23)),
      grid: { color: c => c.tick.value % 0.5 ? 'transparent' : c.tick.value % 1 ? '#eeeeee' : 'transparent',
        tickColor: c => c.tick.value % 1 ? 'transparent' : '#000', tickLength: 5 },
      ticks: { autoSkip: false, minRotation: 45, maxRotation: 45, padding: 2, labelOffset: 5, callback: v => v in pairNameAt ? lrPairs[pairNameAt[v]] : '' } },
    y: { type: 'linear', min: -0.56, max: 9.56, reverse: true,
      afterBuildTicks: fixedTicks(halfTicks(0, 9)),
      grid: { color: c => c.tick.value % 1 ? '#eeeeee' : 'transparent', tickColor: c => c.tick.value % 1 ? 'transparent' : '#000', tickLength: 4 },
      ticks: { autoSkip: false, padding: 8, callback: v => v % 1 ? '' : commRows[v] } }
  } },
  plugins: [frame]
});
note('C', 46, 459, { size: 52 });
note('p−value', 795, 495, { align: 'left' });
note('Commun. Prob.', 795, 584, { align: 'left' });
place(800, 510, 20, 62, { l: 0, r: 110, t: 0, b: 0 }, {
  type: 'scatter',
  data: { datasets: [{ data: pLegendText.map((_, i) => ({ x: 0.5, y: i + 0.5 })), backgroundColor: '#000', pointRadius: pLegendSize, pointBorderWidth: 0 }] },
  options: { scales: {
    x: { display: false, type: 'linear', min: 0, max: 1 },
    y: { type: 'linear', position: 'right', min: 0, max: 2, reverse: true, grid: { display: false, drawTicks: false }, border: { display: false },
      afterBuildTicks: fixedTicks([0.5, 1.5]),
      ticks: { padding: 13, callback: (v, i) => pLegendText[i] } }
  } }
});
colorBar(796, 600, 12, 155, { l: 0, r: 60, t: 6, b: 6 }, -0.01, 1.01, spectral, [1, 0], ['max', 'min'], { pad: 7 });

// ---------- panel D ----------
note('D', 1041, 460, { size: 52 });
note('Outgoing signaling patterns', 1353, 471);
note('Incoming signaling patterns', 1800, 471);

function totalsChart(x, w, totals, lo, hi, tickValues, tickSize) {
  place(x, 488, w, 41, { l: 40, r: 0, t: 6, b: 0 }, {
    type: 'bar',
    data: { labels: cellTypes, datasets: [{ data: totals, base: lo, backgroundColor: cellColors, barPercentage: 0.67, categoryPercentage: 1, borderRadius: 2 }] },
    options: { scales: {
      x: { display: false },
      y: { min: lo, max: hi, grid: { drawOnChartArea: false, color: '#000', tickLength: 4, lineWidth: 2 }, border: { color: '#000', width: 3 },
        afterBuildTicks: fixedTicks(tickValues),
        ticks: { autoSkip: false, padding: 2, font: { size: tickSize }, callback: v => String(v) } }
    } }
  });
}
totalsChart(1111, 395, outTotals, -0.03, 0.94, [0, 0.2, 0.4, 0.6, 0.8], 11);
totalsChart(1558, 396, inTotals, -0.037, 1.24, [0, 0.5, 1], 12);

heatmap(1111, 531, 395, 317, { l: 120, r: 0, t: 0, b: 0 }, [outMK, outCALCR, outVISFATIN, outSPP1], greens, pathways, 'left', 13, 0);
heatmap(1558, 531, 396, 317, ZERO, [inMK, inCALCR, inVISFATIN, inSPP1], greens, null, 'left', 0, 0);

function pathBars(x, w, totals, lo, hi) {
  place(x, 531, w, 317, { l: 0, r: 0, t: 0, b: 30 }, {
    type: 'bar',
    data: { labels: pathways, datasets: [{ data: totals, backgroundColor: '#808080', borderColor: '#000', borderWidth: 3, borderSkipped: false, borderRadius: 2, barPercentage: 0.62, categoryPercentage: 1 }] },
    options: { indexAxis: 'y', scales: {
      x: { type: 'linear', min: lo, max: hi, grid: { drawOnChartArea: false, color: '#000', tickLength: 5, lineWidth: 2 }, border: { color: '#000', width: 3 },
        afterBuildTicks: fixedTicks([0, 0.1, 0.2]),
        ticks: { autoSkip: false, minRotation: 90, maxRotation: 90, padding: 2, font: { size: 10 }, callback: v => String(v) } },
      y: { display: false }
    } }
  });
}
pathBars(1509, 41, outPathTotals, -0.006, 0.2395);
pathBars(1956, 42, inPathTotals, -0.006, 0.2455);

cellStrip(1111, 852, 395, 8, { l: 0, r: 0, t: 0, b: 270 }, 90, 21.2, 9);
cellStrip(1558, 852, 396, 8, { l: 0, r: 0, t: 0, b: 270 }, 90, 21.2, 9);

colorBar(2019, 649, 13, 78, { l: 0, r: 16, t: 4, b: 4 }, -0.03, 1.04, greens, [1, 0], ['1', '0'], { pad: 5 });
note('Relative strength', 2006, 689, { size: 17, rotate: -90 });
colorBar(1117, 1006, 13, 97, { l: 0, r: 20, t: 4, b: 6 }, -0.02, 1.02, greens, [1, 0], ['1', '0'], { pad: 4 });
note('Importance', 1100, 1053, { rotate: -90 });

// ---------- panel E ----------
note('E', 48, 911, { size: 52 });
note('CALCR signaling pathway network', 202, 971);
note('VISFATIN signaling pathway network', 558, 970);
note('SPP1 signaling pathway network', 913, 973);
[[101, 1002, 1137], [454, 1001, 1136], [818, 1005, 1140]].forEach(p => {
  heatmap(p[0], p[1], 244, 130, { l: 100, r: 0, t: 0, b: 0 }, [senderRow, receiverRow, mediatorRow, influencerRow], paleGreens, roles, 'left', 3, 0);
  cellStrip(p[0], p[2], 244, 11, { l: 130, r: 40, t: 0, b: 240 }, 58, 21, 1, 9);
});

// ---------- panel F ----------
note('F', 46, 1425, { size: 52 });
dendrogram(10, 1474, 144, 459, regulonRows.length, fMergeA, fMergeB, fMergeH, 144, 'left', 2.5);
place(154, 1443, 246, 24, ZERO, {
  type: 'bar',
  data: { labels: ['group'], datasets: [
    { data: [groupSizes[0]], backgroundColor: '#f4b350', barPercentage: 1, categoryPercentage: 1 },
    { data: [groupSizes[1]], backgroundColor: '#c9305f', barPercentage: 1, categoryPercentage: 1 }
  ] },
  options: { indexAxis: 'y', scales: {
    x: { display: false, stacked: true, min: 0, max: groupSizes[0] + groupSizes[1] },
    y: { display: false, stacked: true }
  } }
});
note('group', 408, 1458, { size: 22, align: 'left' });
heatmap(154, 1474, 246, 459, { l: 0, r: 270, t: 0, b: 0 }, regulonRows, regulonColor, regulonNames, 'right', 8, 'auto', 21);
colorBar(664, 1428, 25, 377, { l: 0, r: 40, t: 10, b: 10 }, -2.2, 4.15, rdYlBu, [4, 3, 2, 1, 0, -1, -2], ['4', '3', '2', '1', '0', '−1', '−2'], { size: 24, pad: 9 });
note('group', 737, 1440, { size: 24.5, bold: true, align: 'left' });
[['#f4b350', 1456], ['#c9305f', 1491]].forEach(s => {
  const d = document.createElement('div');
  d.className = 'swatch';
  d.style.cssText = 'left:737px;top:' + s[1] + 'px;width:35px;height:36px;background:' + s[0];
  page.appendChild(d);
});
note('Mitohigh Neuron', 779, 1475, { size: 25, align: 'left' });
note('Mitolow Neuron', 779, 1511, { size: 25, align: 'left' });

// ---------- panel G ----------
note('G', 1190, 1137, { size: 52 });
dendrogram(1246, 1143, 254, 20, 2, [-1], [-2], [18], 20, 'top', 3);
dendrogram(1226, 1164, 20, 325, activityRows.length, gRowA, gRowB, gRowH, 20, 'left', 3);
heatmap(1246, 1164, 254, 325, { l: 0, r: 260, t: 0, b: 20 },
  mitohighActivity.map((v, i) => [v, mitolowActivity[i]]), blueRed, activityRows, 'right', 4, 0, 19, 0.15);
note('Mitohigh Neuron', 1277, 1512);
note('Mitolow Neuron', 1452, 1512);
note('Regulon activity', 1770, 1226, { bold: true, align: 'left' });
colorBar(1768, 1244, 30, 142, { l: 0, r: 60, t: 6, b: 6 }, -1.077, 1.077, blueRed, [1, 0.5, 0, -0.5, -1], ['1', '0.5', '0', '−0.5', '−1'], { dashes: [6, 18, 6, 0], pad: 5 });

// ---------- panel H ----------
note('H', 1028, 1490, { size: 52 });
note('Mitohigh_Neuron', 1060, 1544, { align: 'left' });
note('Mitolow_Neuron', 1605, 1544, { align: 'left' });
note('rank', 1280, 1972);
note('rank', 1825, 1972);
note('rss', 1002, 1747, { rotate: -90 });
note('rss', 1547, 1747, { rotate: -90 });

function rankPlot(x, w, l, rank, rss, xMin, xMax, yMin, yMax, yTicks, names, nameRank, nameRss, nameFrom, boxW, boxH) {
  const labelBoxes = {
    id: 'labelBoxes',
    afterDatasetsDraw(chart) {
      const ctx = chart.ctx, sx = chart.scales.x, sy = chart.scales.y;
      ctx.save();
      names.forEach((t, i) => {
        const px = sx.getPixelForValue(nameRank[i]), py = sy.getPixelForValue(nameRss[i]);
        if (nameFrom[i] >= 0) {
          ctx.strokeStyle = '#808080';
          ctx.lineWidth = 3;
          ctx.beginPath();
          ctx.moveTo(sx.getPixelForValue(rank[nameFrom[i]]), sy.getPixelForValue(rss[nameFrom[i]]));
          ctx.lineTo(px, py);
          ctx.stroke();
        }
        ctx.fillStyle = '#fff';
        ctx.strokeStyle = '#000';
        ctx.lineWidth = 2;
        ctx.beginPath();
        ctx.roundRect(px - boxW[i] / 2, py - boxH[i] / 2, boxW[i], boxH[i], 3);
        ctx.fill();
        ctx.stroke();
        ctx.fillStyle = '#000';
        ctx.font = '19.5px ' + FONT;
        ctx.textAlign = 'center';
        ctx.textBaseline = 'middle';
        ctx.fillText(t, px, py + 1);
      });
      ctx.restore();
    }
  };
  place(x, 1564, w, 372, { l: l, r: 4, t: 4, b: 48 }, {
    type: 'scatter',
    data: { datasets: [{ data: rank.map((r, i) => ({ x: r, y: rss[i] })), backgroundColor: '#0000dd', pointRadius: 3.5, pointBorderWidth: 0 }] },
    options: { scales: {
      x: { type: 'linear', min: xMin, max: xMax, grid: { display: false, drawTicks: true, tickLength: 3 }, border: { color: '#000', width: 3 },
        afterBuildTicks: fixedTicks([4, 8, 12]),
        ticks: { padding: 4, font: { size: 21 } } },
      y: { type: 'linear', min: yMin, max: yMax, grid: { display: false, drawTicks: true, tickLength: 4 }, border: { color: '#000', width: 3 },
        afterBuildTicks: fixedTicks(yTicks),
        ticks: { padding: 8, font: { size: 21 }, callback: v => v.toFixed(1) } }
    } },
    plugins: [labelBoxes]
  });
}
rankPlot(1060, 455, 66, hiRank, hiRss, 0.37, 16.45, 0.205, 0.761, [0.3, 0.4, 0.5, 0.6, 0.7],
  hiLabels, hiLabelRank, hiLabelRss, hiLabelFrom, [110, 79, 62, 53, 74], [24, 24, 24, 24, 24]);
rankPlot(1605, 433, 68, loRank, loRss, 0.36, 15.68, 0.0646, 0.476, [0.1, 0.2, 0.3, 0.4],
  loLabels, loLabelRank, loLabelRss, loLabelFrom, [51, 72, 48, 73, 55], [24, 29, 24, 24, 24]);
</script>
</body>
</html>
